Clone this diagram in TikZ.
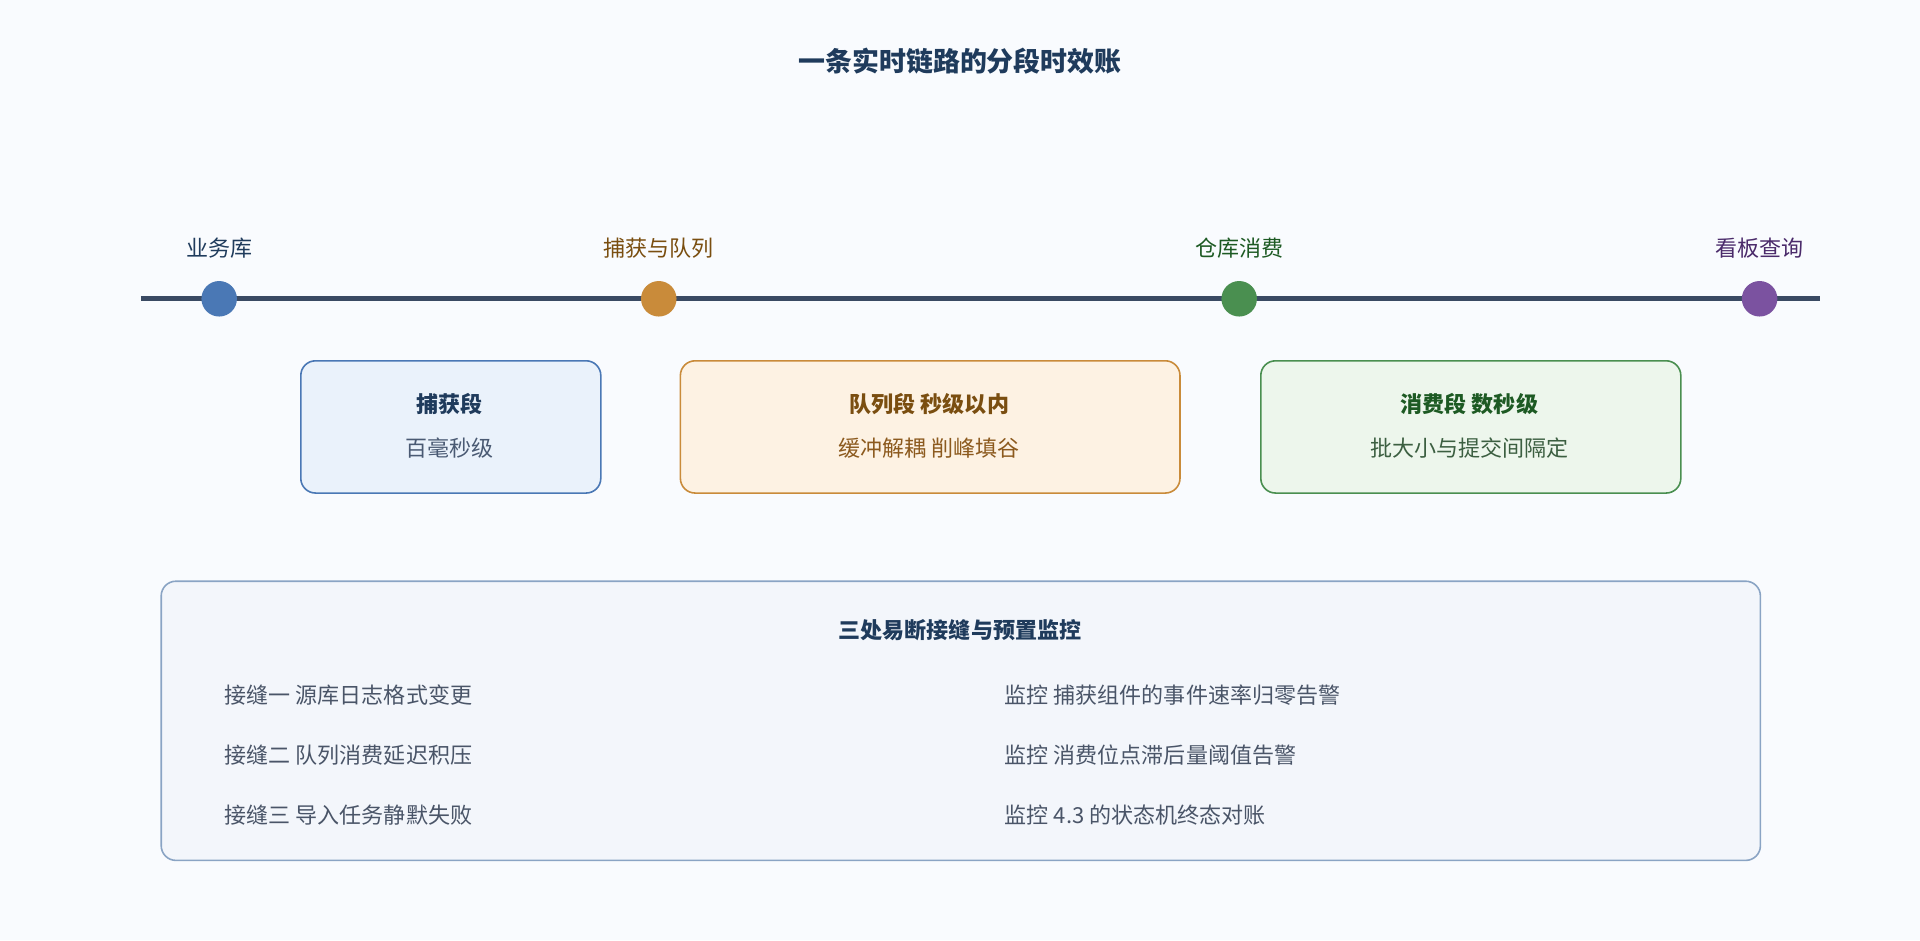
\documentclass[tikz,border=0pt]{standalone}
\usepackage{fontspec}
\setmainfont{Noto Sans CJK SC}
\begin{document}
\begin{tikzpicture}[x=1pt,y=-1pt,
 dot/.style={circle,minimum size=29pt,inner sep=0pt},
 lbl/.style={font=\fontsize{18}{20}\selectfont},
 box/.style={draw,rounded corners=12pt,line width=1.3pt,anchor=north west},
 bt/.style={font=\fontsize{18}{20}\selectfont\bfseries},
 bs/.style={font=\fontsize{18}{20}\selectfont},
 row/.style={font=\fontsize{18}{20}\selectfont,text=rowc,anchor=west}]
\definecolor{bg}{HTML}{F9FBFE}
\definecolor{navy}{HTML}{1F3B5C}
\definecolor{linec}{HTML}{3A4A63}
\definecolor{cb}{HTML}{4A78B5}
\definecolor{co}{HTML}{C98B3A}
\definecolor{cg}{HTML}{4A8F50}
\definecolor{cp}{HTML}{7B52A0}
\definecolor{brown}{HTML}{7A4E10}
\definecolor{dg}{HTML}{1D5A23}
\definecolor{dp}{HTML}{4A2A6A}
\definecolor{rowc}{HTML}{4A5568}
\definecolor{f1}{HTML}{EAF2FB}
\definecolor{f2}{HTML}{FDF2E3}
\definecolor{f3}{HTML}{EDF6EC}
\definecolor{f4}{HTML}{F3F6FB}
\definecolor{s4}{HTML}{8AA4C4}
\definecolor{t1}{HTML}{4A5A73}
\definecolor{t2}{HTML}{8C5A1E}
\definecolor{t3}{HTML}{3C5F41}
\fill[bg] (0,0) rectangle (1568,768);
\useasboundingbox (0,0) rectangle (1568,768);
\node[font=\fontsize{22}{24}\selectfont\bfseries,text=navy] (title) at (784,50) {一条实时链路的分段时效账};
\coordinate (ls) at (115,244); \coordinate (le) at (1486,244);
\draw[linec,line width=4pt] (ls) -- (le);
\node[dot,fill=cb] (d1) at (179,244) {};
\node[dot,fill=co] (d2) at (538,244) {};
\node[dot,fill=cg] (d3) at (1012,244) {};
\node[dot,fill=cp] (d4) at (1437,244) {};
\node[lbl,text=navy] (l1) at (179,203) {业务库};
\node[lbl,text=brown] (l2) at (538,203) {捕获与队列};
\node[lbl,text=dg] (l3) at (1012,203) {仓库消费};
\node[lbl,text=dp] (l4) at (1437,203) {看板查询};
\node[box,draw=cb,fill=f1,minimum width=245pt,minimum height=108pt] (b1) at (245,294) {};
\node[bt,text=navy] (b1t) at (367,330) {捕获段};
\node[bs,text=t1] (b1s) at (367,366) {百毫秒级};
\node[box,draw=co,fill=f2,minimum width=408pt,minimum height=108pt] (b2) at (555,294) {};
\node[bt,text=brown] (b2t) at (759,330) {队列段 秒级以内};
\node[bs,text=t2] (b2s) at (759,366) {缓冲解耦 削峰填谷};
\node[box,draw=cg,fill=f3,minimum width=343pt,minimum height=108pt] (b3) at (1029,294) {};
\node[bt,text=dg] (b3t) at (1200,330) {消费段 数秒级};
\node[bs,text=t3] (b3s) at (1200,366) {批大小与提交间隔定};
\node[box,draw=s4,fill=f4,minimum width=1306pt,minimum height=228pt] (big) at (131,474) {};
\node[bt,text=navy] (bigt) at (784,515) {三处易断接缝与预置监控};
\node[row] (r1) at (180,568) {接缝一 源库日志格式变更};
\node[row] (r2) at (180,617) {接缝二 队列消费延迟积压};
\node[row] (r3) at (180,666) {接缝三 导入任务静默失败};
\node[row] (m1) at (817,568) {监控 捕获组件的事件速率归零告警};
\node[row] (m2) at (817,617) {监控 消费位点滞后量阈值告警};
\node[row] (m3) at (817,666) {监控 4.3 的状态机终态对账};
\end{tikzpicture}
\end{document}
